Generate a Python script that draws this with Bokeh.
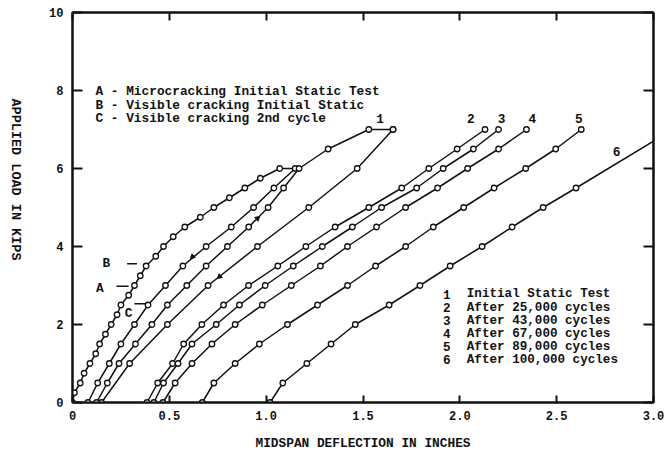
from math import pi
from bokeh.plotting import figure
from bokeh.layouts import row
from bokeh.models import Range1d, LinearAxis, FixedTicker, Label, PrintfTickFormatter
from bokeh.core.properties import value
from bokeh.embed import file_html
from bokeh.resources import INLINE

# ---------------- data (deflection in inches, load in kips) ----------------
# Initial static test: first loading
defl_1a = [0.0, 0.01, 0.04, 0.06, 0.09, 0.12, 0.14, 0.17, 0.20, 0.23, 0.25, 0.29, 0.32,
           0.35, 0.38, 0.43, 0.47, 0.52, 0.58, 0.66, 0.73, 0.81, 0.89, 0.97, 1.07]
load_1a = [0.0, 0.25, 0.5, 0.75, 1.0, 1.25, 1.5, 1.75, 2.0, 2.25, 2.5, 2.75, 3.0,
           3.25, 3.5, 3.75, 4.0, 4.25, 4.5, 4.75, 5.0, 5.25, 5.5, 5.75, 6.0]
# Initial static test: first unloading
defl_1b = [1.15, 1.04, 0.935, 0.82, 0.69, 0.57, 0.48, 0.39, 0.32, 0.25, 0.19, 0.13, 0.08]
load_1b = [6.0, 5.5, 5.0, 4.5, 4.0, 3.5, 3.0, 2.5, 2.0, 1.5, 1.0, 0.5, 0.0]
# Initial static test: 2nd cycle loading
defl_1c = [0.124, 0.18, 0.24, 0.325, 0.41, 0.49, 0.59, 0.69, 0.80, 0.91, 1.01, 1.09,
           1.17, 1.32, 1.53, 1.655]
load_1c = [0.0, 0.5, 1.0, 1.5, 2.0, 2.5, 3.0, 3.5, 4.0, 4.5, 5.0, 5.5, 6.0, 6.5, 7.0, 7.0]
# Initial static test: 2nd cycle unloading
defl_1d = [1.655, 1.47, 1.22, 0.955, 0.70, 0.49, 0.295, 0.15]
load_1d = [7.0, 6.0, 5.0, 4.0, 3.0, 2.0, 1.0, 0.0]

load_cyc = [0.0, 0.5, 1.0, 1.5, 2.0, 2.5, 3.0, 3.5, 4.0, 4.5, 5.0, 5.5, 6.0, 6.5, 7.0]
defl_2 = [0.385, 0.44, 0.517, 0.574, 0.668, 0.78, 0.909, 1.06, 1.205, 1.356, 1.53, 1.70,
          1.84, 1.986, 2.13]
defl_3 = [0.42, 0.47, 0.545, 0.617, 0.742, 0.862, 0.995, 1.14, 1.29, 1.445, 1.596, 1.777,
          1.914, 2.07, 2.20]
defl_4 = [0.467, 0.53, 0.617, 0.72, 0.84, 0.98, 1.13, 1.28, 1.42, 1.57, 1.72, 1.885,
          2.04, 2.20, 2.344]
defl_5 = [0.67, 0.73, 0.84, 0.965, 1.11, 1.265, 1.42, 1.565, 1.72, 1.863, 2.02, 2.177,
          2.34, 2.495, 2.627]
load_6 = [0.0, 0.5, 1.0, 1.5, 2.0, 2.5, 3.0, 3.5, 4.0, 4.5, 5.0, 5.5]
defl_6 = [1.02, 1.086, 1.21, 1.335, 1.46, 1.635, 1.794, 1.95, 2.115, 2.27, 2.43, 2.60]
line6_end_defl = [3.1]
line6_end_load = [7.0]

# direction arrows on the initial static test curves
arrow_defl = [0.62, 0.955, 0.76]
arrow_load = [3.74, 4.72, 3.23]
arrow_angle = [2.29, -0.86, 2.29]

# cracking markers A, B, C
crack_names = ["A", "B", "C"]
crack_load = [2.98, 3.56, 2.53]
crack_x0 = [0.227, 0.282, 0.32]
crack_x1 = [0.29, 0.333, 0.38]

curve_names = ["1", "2", "3", "4", "5", "6"]
legend_texts = ["Initial Static Test", "After 25,000 cycles", "After 43,000 cycles",
                "After 67,000 cycles", "After 89,000 cycles", "After 100,000 cycles"]
note_texts = ["A - Microcracking Initial Static Test",
              "B - Visible cracking Initial Static",
              "C - Visible cracking 2nd cycle"]
y_title = "APPLIED LOAD IN KIPS"
x_title = "MIDSPAN DEFLECTION IN INCHES"

x_ticks = [0.0, 0.5, 1.0, 1.5, 2.0, 2.5, 3.0]
y_ticks = [0, 2, 4, 6, 8, 10]

# ---------------- figure ----------------
FONT = "Liberation Mono"
INK = "#111111"
LABEL_W = 30

p = figure(frame_width=581, frame_height=390,
           x_range=Range1d(0, 3.0), y_range=Range1d(0, 10),
           output_backend="svg", toolbar_location=None,
           min_border_left=72 - LABEL_W, min_border_right=19, min_border_top=12,
           min_border_bottom=48,
           background_fill_color="white", border_fill_color="white")
p.xgrid.visible = False
p.ygrid.visible = False
p.outline_line_color = INK
p.outline_line_width = 2


def style_axis(ax, ticks, show_labels, tick_len):
    ax.ticker = FixedTicker(ticks=ticks)
    ax.axis_line_color = INK
    ax.axis_line_width = 2
    ax.major_tick_line_color = INK
    ax.major_tick_line_width = 2
    ax.major_tick_in = tick_len
    ax.major_tick_out = 0
    ax.minor_tick_line_color = None
    ax.major_label_text_font = FONT
    ax.major_label_text_font_style = "bold"
    ax.major_label_text_color = INK
    if show_labels:
        ax.major_label_text_font_size = "12px"
    else:
        ax.major_label_overrides = {t: "" for t in ticks}
        ax.major_label_text_font_size = "2px"
        ax.major_label_standoff = 0


style_axis(p.xaxis[0], x_ticks, True, 7)
p.xaxis[0].formatter = PrintfTickFormatter(format="%.1f")
p.xaxis[0].major_label_overrides = {0: "0"}
p.xaxis[0].major_label_standoff = 8
p.xaxis[0].axis_label = x_title
p.xaxis[0].axis_label_text_font = FONT
p.xaxis[0].axis_label_text_font_style = "bold"
p.xaxis[0].axis_label_text_font_size = "12.8px"
p.xaxis[0].axis_label_text_color = INK
p.xaxis[0].axis_label_standoff = 13

style_axis(p.yaxis[0], y_ticks, True, 10)
p.yaxis[0].major_label_standoff = 9

top = LinearAxis()
style_axis(top, x_ticks, False, 8)
p.add_layout(top, "above")
right = LinearAxis()
style_axis(right, y_ticks, False, 10)
p.add_layout(right, "right")

# narrow strip holding the vertical y-axis title (reads top to bottom)
strip = figure(frame_width=LABEL_W, frame_height=450, x_range=Range1d(0, LABEL_W),
               y_range=Range1d(0, 450), x_axis_type=None, y_axis_type=None,
               output_backend="svg", toolbar_location=None,
               min_border_left=0, min_border_right=0, min_border_top=0, min_border_bottom=0,
               background_fill_color="white", border_fill_color="white")
strip.xgrid.visible = False
strip.ygrid.visible = False
strip.outline_line_color = None
strip.text(x=[15], y=[450 - 167], text=[y_title], angle=-pi / 2,
           text_font=value(FONT), text_font_style="bold", text_font_size="13.5px",
           text_color=INK, text_align="center", text_baseline="middle")

# ---------------- curves ----------------
LW = 1.5
MS = 5.5


def curve(xs, ys):
    p.line(xs, ys, line_color=INK, line_width=LW)


def marks(xs, ys):
    p.scatter(xs, ys, marker="circle", size=MS, fill_color="white",
              line_color=INK, line_width=1.3)


curve(defl_1a + defl_1b, load_1a + load_1b)
curve(defl_1c + defl_1d, load_1c + load_1d)
curve(defl_2, load_cyc)
curve(defl_3, load_cyc)
curve(defl_4, load_cyc)
curve(defl_5, load_cyc)
curve(defl_6 + line6_end_defl, load_6 + line6_end_load)

for xs, ys in [(defl_1a, load_1a), (defl_1b, load_1b), (defl_1c, load_1c), (defl_1d, load_1d),
               (defl_2, load_cyc), (defl_3, load_cyc), (defl_4, load_cyc), (defl_5, load_cyc),
               (defl_6, load_6)]:
    marks(xs, ys)

p.scatter(arrow_defl, arrow_load, marker="triangle", size=5, angle=arrow_angle,
          fill_color=INK, line_color=INK)

# cracking dashes and letters
p.segment(x0=crack_x0, y0=crack_load, x1=crack_x1, y1=crack_load, line_color=INK, line_width=1.5)
letter_pos = {"A": (0.141, 2.92), "B": (0.175, 3.57), "C": (0.29, 2.28)}
for name in crack_names:
    lx, ly = letter_pos[name]
    p.add_layout(Label(x=lx, y=ly, text=name, text_font=FONT, text_font_style="bold",
                       text_font_size="12.8px", text_color=INK,
                       text_align="center", text_baseline="middle"))

# curve number labels
num_pos = [(1.588, 7.27), (2.057, 7.27), (2.215, 7.27), (2.375, 7.27), (2.615, 7.27), (2.81, 6.44)]
for name, (lx, ly) in zip(curve_names, num_pos):
    p.add_layout(Label(x=lx, y=ly, text=name, text_font=FONT, text_font_style="bold",
                       text_font_size="12.8px", text_color=INK,
                       text_align="center", text_baseline="middle"))

# notes block A/B/C
for i, t in enumerate(note_texts):
    p.add_layout(Label(x=0.1186, y=7.97 - i * 0.35, text=t, text_font=FONT,
                       text_font_style="bold", text_font_size="12.8px", text_color=INK,
                       text_align="left", text_baseline="middle"))

# legend block
for i, (n, t) in enumerate(zip(curve_names, legend_texts)):
    yy = 2.77 - i * 0.335
    p.add_layout(Label(x=1.933, y=yy, text=n, text_font=FONT, text_font_style="bold",
                       text_font_size="12.6px", text_color=INK,
                       text_align="center", text_baseline="middle"))
    p.add_layout(Label(x=2.036, y=yy, text=t, text_font=FONT, text_font_style="bold",
                       text_font_size="12.6px", text_color=INK,
                       text_align="left", text_baseline="middle"))

layout = row(strip, p, spacing=0)
open("out.html", "w").write(file_html(layout, INLINE))
